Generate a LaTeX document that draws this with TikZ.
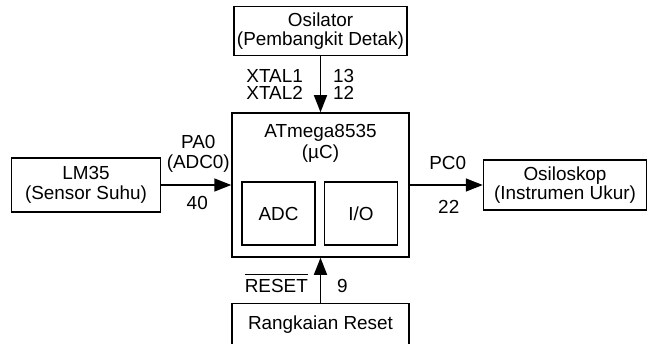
\documentclass[tikz,border=0pt]{standalone}
\usepackage{fontspec}
\setmainfont{Liberation Sans}
\usetikzlibrary{arrows.meta,positioning,calc}
\tikzset{
  blockbox/.style ={draw,line width=1.5pt,align=center,inner sep=2pt,
                     minimum width=173pt,minimum height=49pt},
  mcubox/.style   ={draw,line width=1.5pt,minimum width=177pt,minimum height=144pt},
  unitbox/.style  ={draw,line width=1.5pt,inner sep=2pt,minimum width=73pt,minimum height=63pt},
  pinlbl/.style   ={align=center,inner sep=0pt},
  sig/.style      ={-{Triangle[length=17pt,width=13pt]},line width=1.5pt},
}
\begin{document}
\begin{tikzpicture}[x=1pt,y=1pt,font=\fontsize{18.9pt}{19.5pt}\selectfont,
                    node distance=56pt and 70pt]
\useasboundingbox (0,0) rectangle (652,343);
\node[mcubox] (mcu) at (320.5,158) {};
\node[pinlbl,font=\fontsize{18.9pt}{21pt}\selectfont,below=12pt of mcu.north] (mcuname)
  {ATmega8535\\(µC)};
\node[unitbox,anchor=south west] (adc) at ($(mcu.south west)+(10,12)$) {ADC};
\node[unitbox,right=8pt of adc] (io) {I/O};
% blocks around the controller
\node[blockbox,above=of mcu] (osc) {Osilator\\(Pembangkit Detak)};
\node[blockbox,minimum width=149pt,minimum height=54pt,left=of mcu] (lm)
  {LM35\\(Sensor Suhu)};
\node[blockbox,minimum width=163pt,minimum height=50pt,right=73pt of mcu] (scope)
  {Osiloskop\\(Instrumen Ukur)};
\node[blockbox,minimum width=177pt,minimum height=43pt,below=45pt of mcu] (rst)
  {Rangkaian Reset};
\draw[sig] (osc) -- (mcu);
\draw[sig] (lm) -- (mcu);
\draw[sig] (mcu) -- (scope);
\draw[sig] (rst) -- (mcu);
% pin labels
\coordinate (xmid) at ($(osc.south)!0.5!(mcu.north)$);
\node[pinlbl,align=right,anchor=east,font=\fontsize{18.9pt}{17pt}\selectfont] (xtal)
  at ($(xmid)+(-17.5,0)$) {XTAL1\\XTAL2};
\node[pinlbl,align=left,anchor=west,font=\fontsize{18.9pt}{17pt}\selectfont] (xpin)
  at ($(xmid)+(12.5,0)$) {13\\12};
\coordinate (amid) at ($(lm.east)!0.5!(mcu.west)$);
\node[pinlbl] (pa) at ($(amid)+(2,31)$) {PA0\\(ADC0)};
\node[pinlbl] (pa40) at ($(amid)+(1,-18)$) {40};
\coordinate (cmid) at ($(mcu.east)!0.5!(scope.west)$);
\node[pinlbl] (pc) at ($(cmid)+(1.5,22)$) {PC0};
\node[pinlbl] (pc22) at ($(cmid)+(2.5,-22)$) {22};
\coordinate (rmid) at ($(rst.north)!0.5!(mcu.south)$);
\node[pinlbl,anchor=base east] (rstpin) at ($(rmid)+(-12.5,-12.5)$)
  {$\overline{\mbox{RESET}\rule{0pt}{17pt}}$};
\node[pinlbl,anchor=base west] (rst9) at ($(rmid)+(16.5,-12.5)$) {9};
\end{tikzpicture}
\end{document}
